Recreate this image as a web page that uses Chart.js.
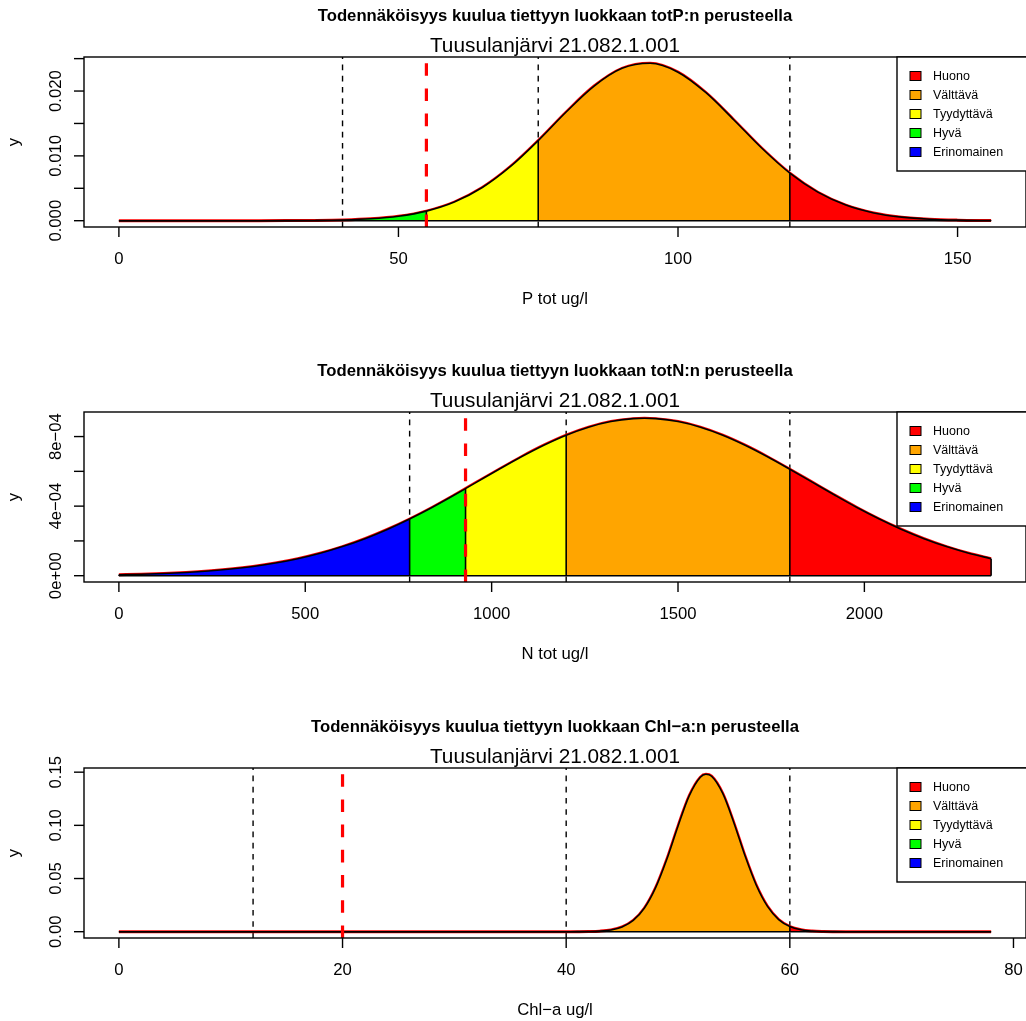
<!DOCTYPE html>
<html>
<head>
<meta charset="utf-8">
<script src="https://cdn.jsdelivr.net/npm/chart.js@4.4.0/dist/chart.umd.min.js"></script>
<style>
body { margin:0; background:#fff; }
#wrap { position:relative; width:1026px; height:1021px; overflow:hidden; background:#fff; }
canvas { position:absolute; left:0; }
</style>
</head>
<body>
<div id="wrap">
<canvas id="c1" width="1026" height="320" style="top:0px"></canvas>
<canvas id="c2" width="1026" height="320" style="top:355px"></canvas>
<canvas id="c3" width="1026" height="320" style="top:711px"></canvas>
</div>
<script>
var luokat = ['Huono','Välttävä','Tyydyttävä','Hyvä','Erinomainen']
var varit = ['#FF0000','#FFA500','#FFFF00','#00FF00','#0000FF']
var paikka = 'Tuusulanjärvi 21.082.1.001'

// totP
var pX = [0,5,10,15,20,25,30,35,40,45,50,55,60,65,70,75,80,85,90,95,100,105,110,115,120,125,130,135,140,145,150,155,156]
var pY = [0,0,0.0000001,0.0000003,0.0000011,0.000004,0.0000134,0.000041,0.000115,0.000295,0.00069,0.00148,0.00288,0.00512,0.00833,0.01236,0.01677,0.02077,0.0235,0.02428,0.02291,0.01974,0.01554,0.01117,0.00733,0.0044,0.00241,0.0012,0.00055,0.000229,0.000087,0.00003,0.000024]
var pRajat = [40,55,75,120]
var pRaja = 55
var pXTicks = [0,50,100,150]
var pYTicks = [0,0.005,0.01,0.015,0.02,0.025]
var pYLabels = ['0.000','','0.010','','0.020','']

// totN
var nX = [0,60,120,180,240,300,360,420,480,540,600,660,720,780,840,900,930,960,1020,1080,1140,1200,1260,1320,1380,1410,1440,1500,1560,1620,1680,1740,1800,1860,1920,1980,2040,2100,2160,2220,2280,2340]
var nY = [0.0000055,0.0000083,0.0000125,0.0000185,0.0000268,0.0000381,0.0000531,0.0000728,0.0000979,0.0001293,0.0001675,0.0002131,0.0002661,0.0003261,0.0003923,0.0004639,0.0005007,0.0005379,0.000612,0.000684,0.0007503,0.000808,0.0008541,0.0008864,0.0009029,0.000905,0.0009029,0.0008864,0.0008541,0.000808,0.0007503,0.000684,0.000612,0.0005379,0.0004639,0.0003923,0.0003261,0.0002661,0.0002131,0.0001675,0.0001293,0.0000979]
var nRajat = [780,930,1200,1800]
var nRaja = 930
var nXTicks = [0,500,1000,1500,2000]
var nYTicks = [0,0.0002,0.0004,0.0006,0.0008]
var nYLabels = ['0e+00','','4e\u221204','','8e\u221204']

// Chl-a
var cX = [0,4,8,12,16,20,24,28,32,36,40,41,42,43,44,45,46,47,48,49,50,51,52,52.5,53,54,55,56,57,58,59,60,61,62,63,64,65,66,68,70,72,74,76,78]
var cY = [0,0,0,0,0,0,0,0,0,0,0.00001,0.00004,0.00016,0.00054,0.00164,0.00443,0.01055,0.02222,0.0414,0.0681,0.0992,0.1277,0.1453,0.148,0.1462,0.13,0.1023,0.0711,0.0437,0.0238,0.01143,0.00486,0.00182,0.00061,0.00018,0.00005,0.00001,0,0,0,0,0,0,0]
var cRajat = [12,20,40,60]
var cRaja = 20
var cXTicks = [0,20,40,60,80]
var cYTicks = [0,0.05,0.1,0.15]
var cYLabels = ['0.00','0.05','0.10','0.15']

var FONT = '"Liberation Sans", Arial, Helvetica, sans-serif'

var rPlot = {
  id: 'rPlot',
  beforeDatasetsDraw: function(chart, args, o) {
    var ctx = chart.ctx, a = chart.chartArea, sx = chart.scales.x
    ctx.save()
    ctx.strokeStyle = '#000'
    ctx.lineWidth = 1.4
    ctx.setLineDash([5.6,5.6])
    o.rajat.forEach(function(b) {
      if (b === o.raja) return
      var px = sx.getPixelForValue(b)
      ctx.beginPath()
      ctx.moveTo(px, a.bottom)
      ctx.lineTo(px, a.top)
      ctx.stroke()
    })
    ctx.restore()
  },
  afterDatasetsDraw: function(chart, args, o) {
    var ctx = chart.ctx, a = chart.chartArea, sx = chart.scales.x, sy = chart.scales.y
    var cx = (a.left + a.right) / 2
    ctx.save()
    // raja
    ctx.strokeStyle = '#FF0000'
    ctx.lineWidth = 3.2
    ctx.setLineDash([12.6,12.6])
    var rx = sx.getPixelForValue(o.raja)
    ctx.beginPath()
    ctx.moveTo(rx, a.bottom)
    ctx.lineTo(rx, a.top)
    ctx.stroke()
    ctx.setLineDash([])

    ctx.strokeStyle = '#000'
    ctx.lineWidth = 1.4
    ctx.strokeRect(a.left, a.top, a.right - a.left, a.bottom - a.top)

    ctx.fillStyle = '#000'
    ctx.font = '16.7px ' + FONT
    ctx.textAlign = 'center'
    ctx.textBaseline = 'alphabetic'
    o.xTicks.forEach(function(v) {
      var px = sx.getPixelForValue(v)
      ctx.beginPath()
      ctx.moveTo(px, a.bottom)
      ctx.lineTo(px, a.bottom + 10)
      ctx.stroke()
      ctx.fillText(String(v), px, a.bottom + 36.5)
    })
    o.yTicks.forEach(function(v, i) {
      var py = sy.getPixelForValue(v)
      ctx.beginPath()
      ctx.moveTo(a.left, py)
      ctx.lineTo(a.left - 10, py)
      ctx.stroke()
      if (o.yLabels[i]) {
        ctx.save()
        ctx.translate(a.left - 23, py)
        ctx.rotate(-Math.PI / 2)
        ctx.fillText(o.yLabels[i], 0, 0)
        ctx.restore()
      }
    })
    ctx.fillText(o.xTitle, cx, a.bottom + 76.5)
    ctx.save()
    ctx.translate(18.7, (a.top + a.bottom) / 2)
    ctx.rotate(-Math.PI / 2)
    ctx.fillText('y', 0, 0)
    ctx.restore()

    ctx.font = 'bold 16.7px ' + FONT
    ctx.fillText(o.title, cx, a.top - 36)
    ctx.font = '20.8px ' + FONT
    ctx.fillText(paikka, cx, a.top - 5.5)

    // selite
    var lx = a.right - 129, ly = a.top
    ctx.fillStyle = '#fff'
    ctx.fillRect(lx, ly, 140, 114)
    ctx.strokeRect(lx, ly, 140, 114)
    ctx.font = '12.5px ' + FONT
    ctx.textAlign = 'left'
    ctx.textBaseline = 'middle'
    ctx.lineWidth = 1
    luokat.forEach(function(l, i) {
      var yy = ly + 19 + i * 19
      ctx.fillStyle = varit[i]
      ctx.fillRect(lx + 13, yy - 4.5, 11, 9)
      ctx.strokeRect(lx + 13, yy - 4.5, 11, 9)
      ctx.fillStyle = '#000'
      ctx.fillText(l, lx + 36, yy + 0.5)
    })
    ctx.restore()
  }
}

function piirra(id, xs, ys, rajat, raja, xTicks, yTicks, yLabels, title, xTitle) {
  var pts = xs.map(function(x, i) { return {x: x, y: ys[i]} })
  var xEnd = xs[xs.length - 1]
  var yMax = Math.max.apply(null, ys)
  var reunat = [xs[0]].concat(rajat, [xEnd])
  var sets = []
  for (var i = 0; i < reunat.length - 1; i++) {
    var lo = reunat[i], hi = reunat[i + 1]
    sets.push({
      data: pts.filter(function(p) { return p.x >= lo && p.x <= hi }),
      fill: 'origin', backgroundColor: varit[4 - i],
      borderColor: 'rgba(0,0,0,0)', borderWidth: 0,
      pointRadius: 0, cubicInterpolationMode: 'monotone', order: 5
    })
  }
  sets.push({data: pts, borderColor: '#FF0000', borderWidth: 3, pointRadius: 0, fill: false, cubicInterpolationMode: 'monotone', order: 6})
  sets.push({data: pts, borderColor: '#000', borderWidth: 1.6, pointRadius: 0, fill: false, cubicInterpolationMode: 'monotone', order: 2})
  sets.push({data: [{x: xs[0], y: 0}, {x: xEnd, y: 0}], borderColor: '#000', borderWidth: 1.6, pointRadius: 0, fill: false, order: 2})
  reunat.forEach(function(b) {
    var yv = ys[xs.indexOf(b)]
    sets.push({data: [{x: b, y: 0}, {x: b, y: yv}], borderColor: '#000', borderWidth: 1.6, pointRadius: 0, fill: false, order: 1})
  })

  return new Chart(document.getElementById(id), {
    type: 'line',
    data: {datasets: sets},
    plugins: [rPlot],
    options: {
      responsive: false,
      animation: false,
      devicePixelRatio: 1,
      layout: {padding: {left: 84, right: 0, top: 57, bottom: 93}},
      scales: {
        x: {type: 'linear', display: false, min: -0.04 * xEnd, max: 1.04 * xEnd},
        y: {type: 'linear', display: false, min: -0.04 * yMax, max: 1.04 * yMax}
      },
      plugins: {
        legend: {display: false},
        tooltip: {enabled: false},
        rPlot: {rajat: rajat, raja: raja, xTicks: xTicks, yTicks: yTicks, yLabels: yLabels, title: title, xTitle: xTitle}
      }
    }
  })
}

piirra('c1', pX, pY, pRajat, pRaja, pXTicks, pYTicks, pYLabels, 'Todennäköisyys kuulua tiettyyn luokkaan totP:n perusteella', 'P tot ug/l')
piirra('c2', nX, nY, nRajat, nRaja, nXTicks, nYTicks, nYLabels, 'Todennäköisyys kuulua tiettyyn luokkaan totN:n perusteella', 'N tot ug/l')
piirra('c3', cX, cY, cRajat, cRaja, cXTicks, cYTicks, cYLabels, 'Todennäköisyys kuulua tiettyyn luokkaan Chl\u2212a:n perusteella', 'Chl\u2212a ug/l')
</script>
</body>
</html>
